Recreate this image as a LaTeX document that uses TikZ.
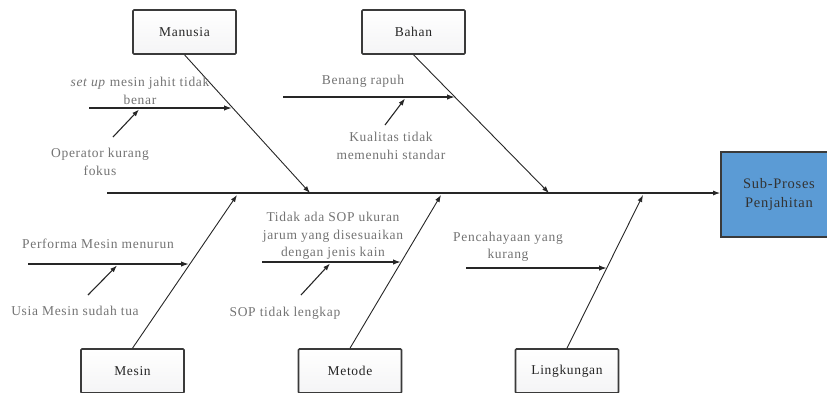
\documentclass[tikz,border=0pt]{standalone}
\usepackage{fontspec}
\setmainfont{Liberation Serif}[LetterSpace=5]
\usetikzlibrary{arrows.meta,calc}
\definecolor{effblue}{HTML}{5B9BD5}
\definecolor{boxedge}{HTML}{3A3A3A}
\begin{document}
\begin{tikzpicture}[x=1pt,y=-1pt,
  catbox/.style={draw=boxedge, line width=1.6pt, rounded corners=1pt,
    top color=white, bottom color=blue!6!gray!8,
    minimum width=103pt, minimum height=44pt, inner sep=0pt,
    font=\fontsize{13.5}{16}\selectfont, text=black!85},
  effbox/.style={draw=boxedge, line width=1.6pt, fill=effblue,
    minimum width=116pt, minimum height=85pt, inner sep=0pt, align=center,
    font=\fontsize{14.5}{19}\selectfont, text=black!80},
  cause/.style={font=\fontsize{13.5}{17.5}\selectfont, text=black!55, align=center, inner sep=0pt},
  spinearr/.style={-{Latex[length=7pt,width=5pt]}, line width=1.2pt, draw=black!85},
  catarr/.style={-{Latex[length=7pt,width=5pt]}, line width=0.9pt, draw=black!85},
  subarr/.style={-{Latex[length=8pt,width=5.5pt]}, line width=1.5pt, draw=black!85},
  subsubarr/.style={-{Latex[length=7pt,width=5pt]}, line width=1.1pt, draw=black!85},
]
\useasboundingbox (0,0) rectangle (827,392);

% effect and spine
\node[effbox] (eff) at (779,194.5) {Sub-Proses\\Penjahitan};
\coordinate (sp0) at (107,193);
\draw[spinearr] (sp0) -- (eff.west |- sp0);

% categories
\node[catbox] (man) at (184.5,32) {Manusia};
\node[catbox] (bah) at (413.5,32) {Bahan};
\node[catbox] (mes) at (132.5,371) {Mesin};
\node[catbox] (met) at (350,371) {Metode};
\node[catbox] (lin) at (567,371) {Lingkungan};

\coordinate (manE) at (310,193);
\coordinate (bahE) at (549,193);
\coordinate (mesE) at (237,195);
\coordinate (metE) at (441,195);
\coordinate (linE) at (643,195);

\draw[catarr] (man.south) -- (manE);
\draw[catarr] (bah.south) -- (bahE);
\draw[catarr] (mes.north) -- (mesE);
\draw[catarr] (met.north) -- (metE);
\draw[catarr] (lin.north) -- (linE);

% Manusia
\coordinate (a1s) at (89,108);
\coordinate (a1e) at (232,108);
\draw[subarr] (a1s) -- (a1e);
\node[cause] (a1t) at (140,91) {\textit{set up} mesin jahit tidak\\benar};
\coordinate (a2s) at (113,137);
\coordinate (a2e) at (139,109.5);
\draw[subsubarr] (a2s) -- (a2e);
\node[cause] (a2t) at (100,162) {Operator kurang\\fokus};

% Bahan
\coordinate (b1s) at (283,97);
\coordinate (b1e) at (455,97);
\draw[subarr] (b1s) -- (b1e);
\node[cause] (b1t) at (363,81) {Benang rapuh};
\coordinate (b2s) at (385,125);
\coordinate (b2e) at (405,98.5);
\draw[subsubarr] (b2s) -- (b2e);
\node[cause] (b2t) at (391,146) {Kualitas tidak\\memenuhi standar};

% Mesin
\coordinate (c1s) at (28,264);
\coordinate (c1e) at (189,264);
\draw[subarr] (c1s) -- (c1e);
\node[cause] (c1t) at (98,244) {Performa Mesin menurun};
\coordinate (c2s) at (88,295);
\coordinate (c2e) at (117,265.5);
\draw[subsubarr] (c2s) -- (c2e);
\node[cause] (c2t) at (75,311) {Usia Mesin sudah tua};

% Metode
\coordinate (d1s) at (262,262);
\coordinate (d1e) at (401,262);
\draw[subarr] (d1s) -- (d1e);
\node[cause] (d1t) at (333,236) {Tidak ada SOP ukuran\\jarum yang disesuaikan\\dengan jenis kain};
\coordinate (d2s) at (301,295);
\coordinate (d2e) at (330,263.5);
\draw[subsubarr] (d2s) -- (d2e);
\node[cause] (d2t) at (285,313) {SOP tidak lengkap};

% Lingkungan
\coordinate (e1s) at (466,268);
\coordinate (e1e) at (607,268);
\draw[subarr] (e1s) -- (e1e);
\node[cause] (e1t) at (508,247) {Pencahayaan yang\\kurang};
\end{tikzpicture}
\end{document}
